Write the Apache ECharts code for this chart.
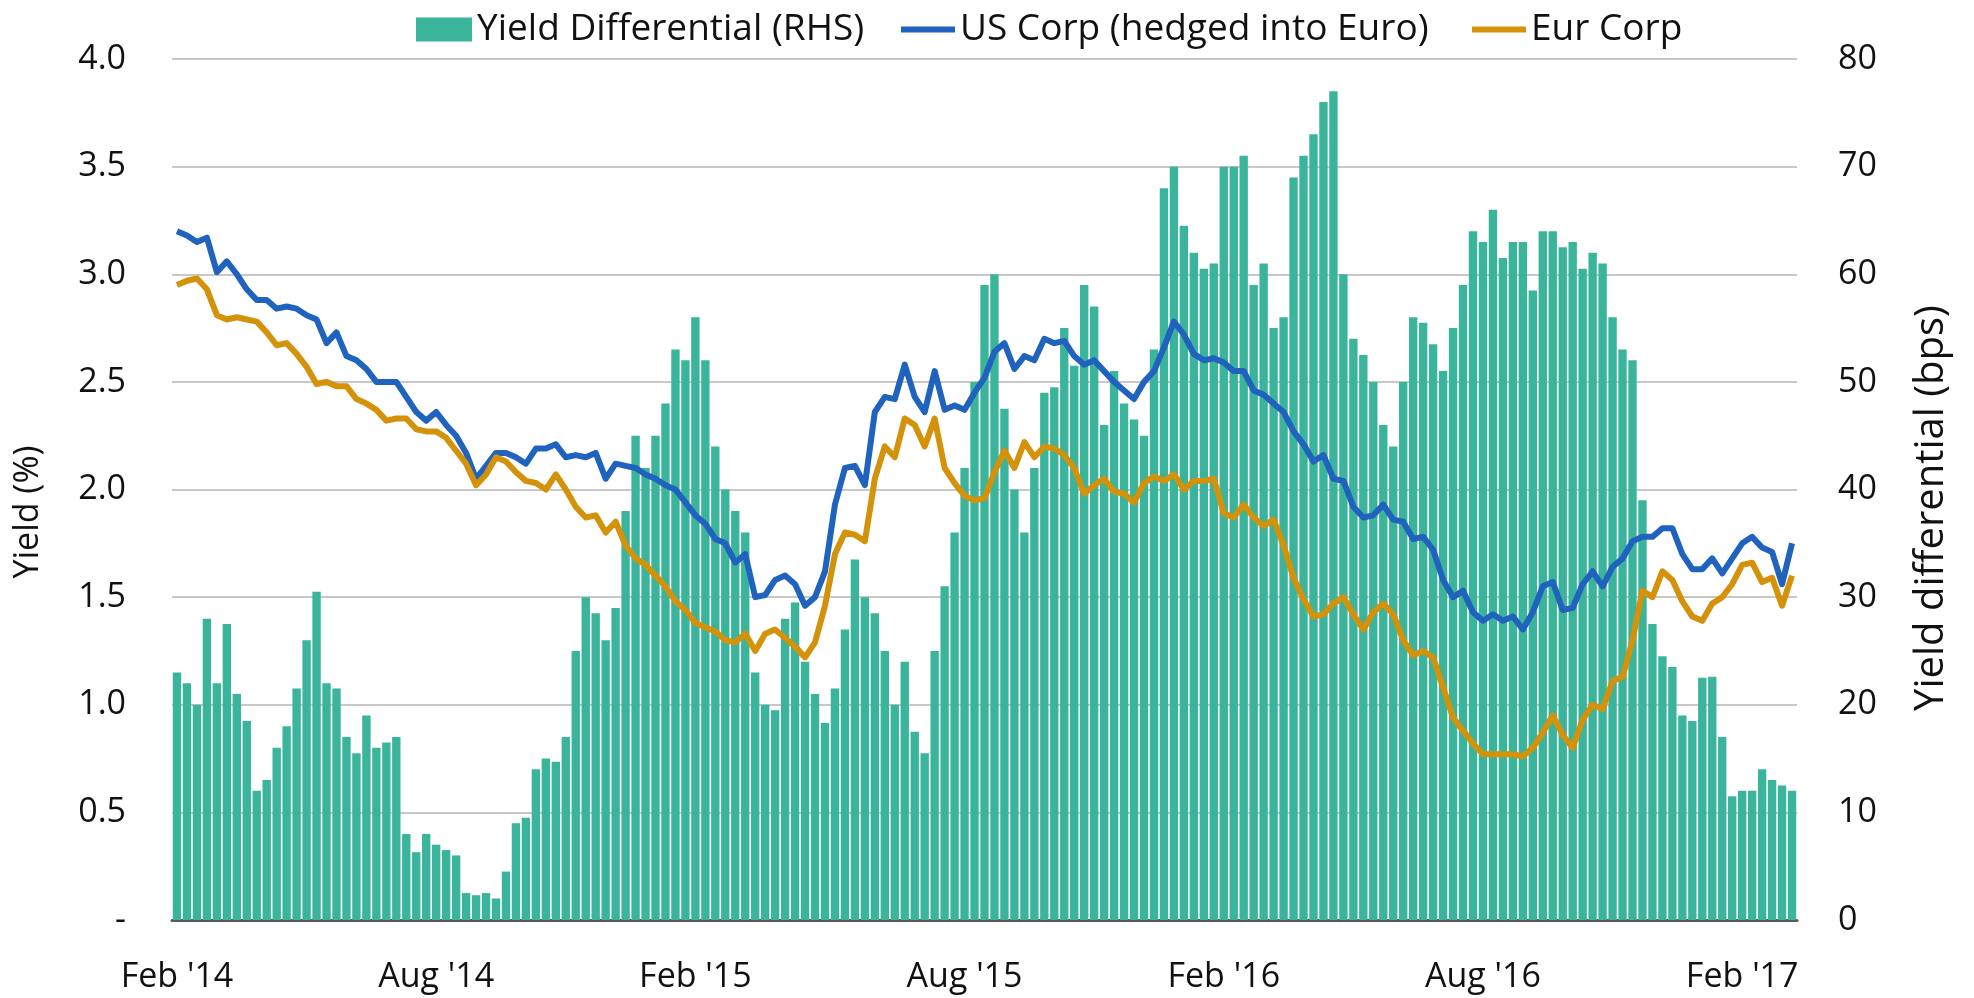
<!DOCTYPE html>
<html>
<head>
<meta charset="utf-8">
<script src="https://cdn.jsdelivr.net/npm/echarts@6/dist/echarts.min.js"></script>
<style>
  html, body { margin: 0; padding: 0; background: #fff; }
  #chart { width: 1974px; height: 998px; }
</style>
</head>
<body>
<div id="chart"></div>
<script>
// weekly observations, Feb 2014 - Mar 2017
const yieldDiff = [
  23, 22, 20, 28, 22, 27.5, 21, 18.5, 12, 13, 16, 18, 21.5, 26, 30.5, 22, 21.5, 17, 15.5, 19, 16, 16.5, 17, 8, 6.3, 8, 7,
  6.5, 6, 2.5, 2.3, 2.5, 2, 4.5, 9, 9.5, 14, 15, 14.7, 17, 25, 30, 28.5, 26, 29, 38, 45, 42, 45, 48, 53, 52, 56, 52,
  44, 40, 38, 36, 23, 20, 19.5, 28, 29.5, 24, 21, 18.3, 21.5, 27, 33.5, 30, 28.5, 25, 20, 24, 17.5, 15.5, 25, 31, 36, 42, 50,
  59, 60, 47.5, 40, 36, 42, 49, 49.5, 55, 51.5, 59, 57, 46, 51, 48, 46.5, 45, 53, 68, 70, 64.5, 62, 60.5, 61, 70, 70, 71,
  59, 61, 55, 56, 69, 71, 73, 76, 77, 60, 54, 52.5, 50, 46, 44, 50, 56, 55.5, 53.5, 51, 55, 59, 64, 63, 66, 61.5, 63,
  63, 58.5, 64, 64, 62.5, 63, 60.5, 62, 61, 56, 53, 52, 39, 27.5, 24.5, 23.5, 19, 18.5, 22.5, 22.6, 17, 11.5, 12, 12, 14, 13, 12.5, 12
];

const usCorp = [
  3.2, 3.18, 3.15, 3.17, 3.01, 3.06, 3.0, 2.93, 2.88, 2.88, 2.84, 2.85, 2.84, 2.81, 2.79, 2.68, 2.73, 2.62, 2.6, 2.56, 2.5, 2.5, 2.5, 2.43, 2.36, 2.32, 2.36,
  2.30, 2.25, 2.17, 2.05, 2.11, 2.17, 2.17, 2.15, 2.12, 2.19, 2.19, 2.21, 2.15, 2.16, 2.15, 2.17, 2.05, 2.12, 2.11, 2.1, 2.07, 2.05, 2.02, 2.0, 1.94, 1.88, 1.84,
  1.77, 1.75, 1.66, 1.7, 1.5, 1.51, 1.58, 1.6, 1.56, 1.46, 1.5, 1.62, 1.93, 2.1, 2.11, 2.02, 2.36, 2.43, 2.42, 2.58, 2.43, 2.36, 2.55, 2.37, 2.39, 2.37, 2.45,
  2.52, 2.64, 2.68, 2.56, 2.62, 2.6, 2.7, 2.68, 2.69, 2.62, 2.58, 2.6, 2.55, 2.5, 2.46, 2.42, 2.5, 2.55, 2.66, 2.78, 2.72, 2.63, 2.6, 2.61, 2.59, 2.55, 2.55,
  2.46, 2.44, 2.4, 2.36, 2.27, 2.21, 2.13, 2.16, 2.05, 2.04, 1.92, 1.87, 1.88, 1.93, 1.86, 1.85, 1.77, 1.78, 1.72, 1.58, 1.5, 1.53, 1.43, 1.39, 1.42, 1.39, 1.41,
  1.35, 1.43, 1.55, 1.57, 1.44, 1.45, 1.56, 1.62, 1.55, 1.64, 1.68, 1.76, 1.78, 1.78, 1.82, 1.82, 1.7, 1.63, 1.63, 1.68, 1.61, 1.68, 1.75, 1.78, 1.73, 1.71, 1.56, 1.75
];

const eurCorp = [
  2.95, 2.97, 2.98, 2.93, 2.81, 2.79, 2.8, 2.79, 2.78, 2.73, 2.67, 2.68, 2.63, 2.57, 2.49, 2.5, 2.48, 2.48, 2.42, 2.4, 2.37, 2.32, 2.33, 2.33, 2.28, 2.27, 2.27,
  2.24, 2.18, 2.12, 2.02, 2.07, 2.15, 2.13, 2.08, 2.04, 2.03, 2.0, 2.07, 2.0, 1.92, 1.87, 1.88, 1.8, 1.85, 1.74, 1.68, 1.65, 1.6, 1.55, 1.48, 1.44, 1.38, 1.36,
  1.34, 1.30, 1.29, 1.33, 1.25, 1.33, 1.35, 1.31, 1.27, 1.22, 1.29, 1.46, 1.7, 1.8, 1.79, 1.76, 2.05, 2.2, 2.15, 2.33, 2.3, 2.2, 2.33, 2.1, 2.03, 1.97, 1.95,
  1.96, 2.08, 2.18, 2.1, 2.22, 2.15, 2.2, 2.19, 2.16, 2.1, 1.98, 2.02, 2.05, 1.99, 1.98, 1.94, 2.03, 2.06, 2.04, 2.07, 2.0, 2.04, 2.04, 2.05, 1.89, 1.87, 1.93,
  1.87, 1.83, 1.86, 1.74, 1.59, 1.49, 1.41, 1.42, 1.47, 1.5, 1.42, 1.35, 1.43, 1.47, 1.42, 1.3, 1.23, 1.25, 1.22, 1.08, 0.94, 0.88, 0.82, 0.77, 0.77, 0.77, 0.77,
  0.76, 0.8, 0.87, 0.95, 0.86, 0.8, 0.93, 1.0, 0.98, 1.11, 1.13, 1.3, 1.53, 1.5, 1.62, 1.58, 1.48, 1.41, 1.39, 1.47, 1.5, 1.56, 1.65, 1.66, 1.57, 1.59, 1.46, 1.6
];

const tickLabels = ["Feb '14", "Aug '14", "Feb '15", "Aug '15", "Feb '16", "Aug '16", "Feb '17"];
const tickWeeks = [0, 26, 52, 79, 105, 131, 157];

// one category per week, starting 3 Feb 2014
const weeks = [];
for (let i = 0; i < yieldDiff.length; i++) {
  const d = new Date(Date.UTC(2014, 1, 3 + i * 7));
  weeks.push(d.toISOString().slice(0, 10));
}

const FONT = 'Open Sans';
const TEXT = '#111';
const GREEN = '#3bb49c';
const BLUE = '#1f63be';
const ORANGE = '#d4910a';

const chart = echarts.init(document.getElementById('chart'));

const legendBase = {
  top: 6,
  itemGap: 0,
  textStyle: { fontFamily: FONT, fontSize: 37, color: TEXT },
  selectedMode: false
};

chart.setOption({
  animation: false,
  textStyle: { fontFamily: FONT },
  legend: [
    Object.assign({}, legendBase, {
      left: 411,
      itemWidth: 56,
      itemHeight: 24,
      data: [{ name: 'Yield Differential (RHS)', icon: 'rect' }]
    }),
    Object.assign({}, legendBase, {
      left: 896,
      itemWidth: 54,
      itemHeight: 6,
      data: [{ name: 'US Corp (hedged into Euro)', icon: 'rect' }]
    }),
    Object.assign({}, legendBase, {
      left: 1467,
      itemWidth: 54,
      itemHeight: 6,
      data: [{ name: 'Eur Corp', icon: 'rect' }]
    })
  ],
  grid: {
    left: 172, right: 177, top: 59, bottom: 78,
    containLabel: false,
    outerBoundsMode: 'none'
  },
  graphic: [
    {
      type: 'text',
      x: 28,
      y: 512,
      rotation: Math.PI / 2,
      style: {
        text: 'Yield (%)',
        align: 'center',
        verticalAlign: 'middle',
        fontSize: 34,
        fontFamily: FONT,
        fill: TEXT
      }
    },
    {
      type: 'text',
      x: 1932,
      y: 508,
      rotation: Math.PI / 2,
      style: {
        text: 'Yield differential (bps)',
        align: 'center',
        verticalAlign: 'middle',
        fontSize: 40,
        fontFamily: FONT,
        fill: TEXT
      }
    }
  ],
  xAxis: {
    type: 'category',
    data: weeks,
    boundaryGap: true,
    axisTick: { show: false },
    axisLine: { lineStyle: { color: '#595959', width: 3 } },
    splitLine: { show: false },
    axisLabel: {
      interval: idx => tickWeeks.includes(idx),
      formatter: (v, idx) => tickLabels[tickWeeks.indexOf(idx)],
      margin: 40,
      fontFamily: FONT,
      fontSize: 34,
      color: TEXT
    }
  },
  yAxis: [
    {
      type: 'value',
      min: 0,
      max: 4,
      interval: 0.5,
      axisLine: { show: false },
      axisTick: { show: false },
      splitLine: { lineStyle: { color: '#c8c8c8', width: 2 } },
      axisLabel: {
        margin: 46,
        fontFamily: FONT,
        fontSize: 34,
        color: TEXT,
        formatter: v => (v === 0 ? '-' : v.toFixed(1))
      }
    },
    {
      type: 'value',
      min: 0,
      max: 80,
      interval: 10,
      position: 'right',
      axisLine: { show: false },
      axisTick: { show: false },
      splitLine: { show: false },
      axisLabel: { margin: 41, fontFamily: FONT, fontSize: 34, color: TEXT }
    }
  ],
  series: [
    {
      name: 'Yield Differential (RHS)',
      type: 'bar',
      yAxisIndex: 1,
      data: yieldDiff,
      barCategoryGap: '16%',
      itemStyle: { color: GREEN }
    },
    {
      name: 'US Corp (hedged into Euro)',
      type: 'line',
      yAxisIndex: 0,
      data: usCorp,
      symbol: 'none',
      lineStyle: { color: BLUE, width: 6, join: 'round' },
      itemStyle: { color: BLUE }
    },
    {
      name: 'Eur Corp',
      type: 'line',
      yAxisIndex: 0,
      data: eurCorp,
      symbol: 'none',
      lineStyle: { color: ORANGE, width: 6, join: 'round' },
      itemStyle: { color: ORANGE }
    }
  ]
});
</script>
</body>
</html>
